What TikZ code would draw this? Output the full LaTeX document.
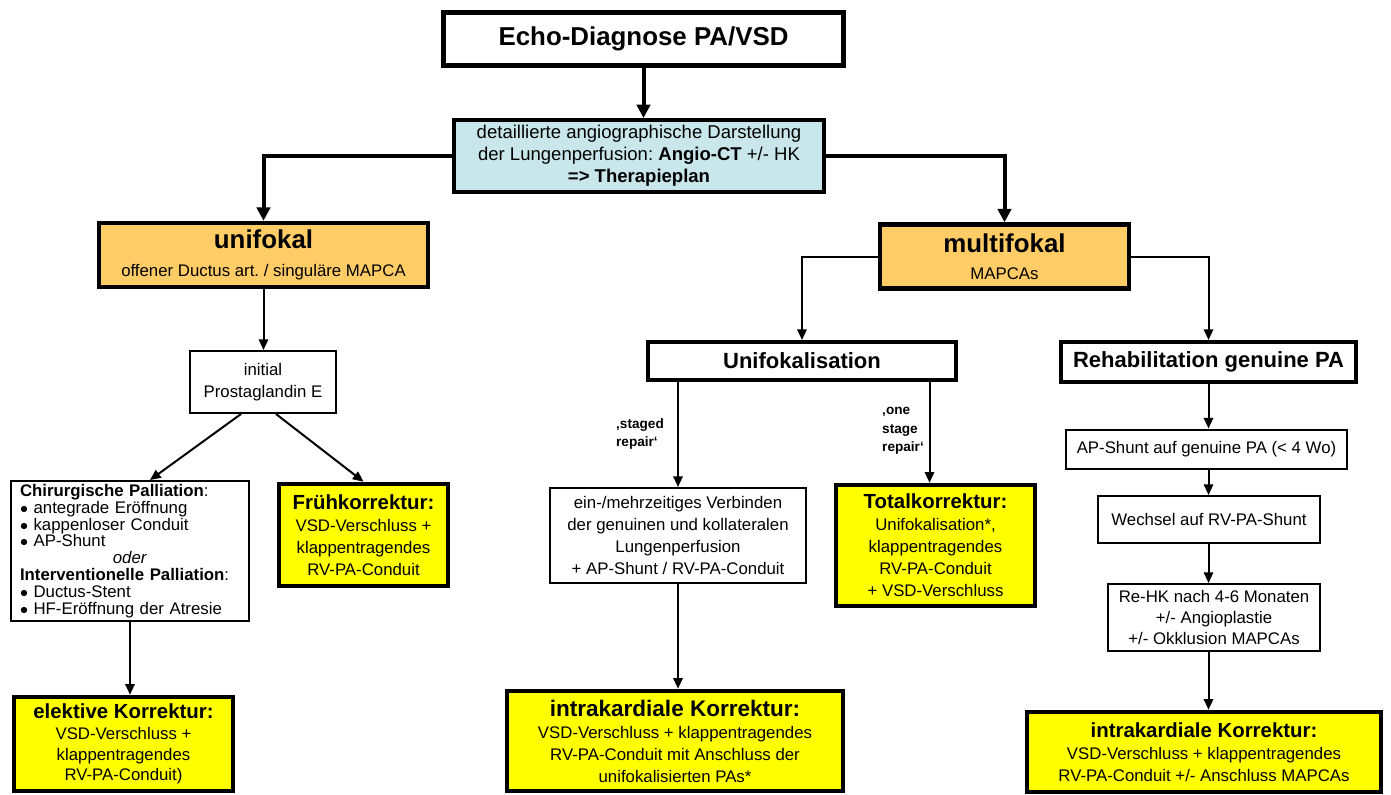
\documentclass[tikz,border=0pt]{standalone}
\usepackage{fontspec}
\setmainfont{Liberation Sans}
\usetikzlibrary{arrows.meta,calc}
\newcommand\fsz[2]{\fontsize{#1}{#2}\selectfont}
\newcommand\blt{$\bullet$\ }
\frenchspacing
\definecolor{angioblue}{RGB}{201,231,234}
\definecolor{fokalorange}{RGB}{255,204,102}
\definecolor{korryellow}{RGB}{255,255,0}
\tikzset{
	box/.style={draw, line width=1.5pt, inner sep=0pt, align=center, font=\fsz{12.6}{16.5}},
	bigbox/.style={box, line width=3.4pt},
	korr/.style={bigbox, fill=korryellow},
	dim/.style 2 args={minimum width=#1*0.75pt, minimum height=#2*0.75pt},
	arr/.style={line width=1.5pt, -{Triangle[length=8pt,width=7pt]}},
	bigarr/.style={line width=3pt, -{Triangle[length=10pt,width=10pt]}},
	lbl/.style={align=left, inner sep=0pt, font=\bfseries\fsz{10.2}{13.8}},
}
\begin{document}
\begin{tikzpicture}[x=0.75pt,y=-0.75pt,line join=miter]
	\useasboundingbox (0,0) rectangle (1391,794);
	% oben
	\node[bigbox, dim={400}{53}, line width=3.75pt, font=\bfseries\fsz{19.4}{22}] (echo) at (643.5,39) {Echo-Diagnose PA/VSD};
	\node[bigbox, dim={370}{72}, line width=3pt, fill=angioblue, font=\fsz{13.9}{16.5}] (angio) at (639,156)
		{detaillierte angiographische Darstellung\\der Lungenperfusion: \textbf{Angio-CT} +/- HK\\\textbf{=> Therapieplan}};
	\node[bigbox, dim={329}{64}, fill=fokalorange] (unifokal) at (263.5,255)
		{{\bfseries\fsz{19.4}{22}unifokal}\\[4pt]offener Ductus art. / singuläre MAPCA};
	\node[bigbox, dim={249}{64}, fill=fokalorange] (multifokal) at (1004.5,256.5)
		{{\bfseries\fsz{19.4}{22}multifokal}\\[4pt]MAPCAs};
	% linker Zweig
	\node[box, dim={146}{62}] (prosta) at (263,382) {initial\\Prostaglandin E};
	\node[box, dim={238}{140}, align=left, text width=165pt, font=\fsz{12.6}{12.6}] (palli) at (130,551)
		{\textbf{Chirurgische Palliation}:\\
		\blt antegrade Eröffnung\\
		\blt kappenloser Conduit\\
		\blt AP-Shunt\\
		\makebox[165pt]{\textit{oder}}\\
		\textbf{Interventionelle Palliation}:\\
		\blt Ductus-Stent\\
		\blt HF-Eröffnung der Atresie};
	\node[korr, dim={169}{102}] (frueh) at (363.5,535)
		{\textbf{\fsz{15.3}{16.5}Frühkorrektur:}\\VSD-Verschluss +\\klappentragendes\\RV-PA-Conduit};
	\node[korr, dim={219}{94}, font=\fsz{12.6}{15.5}] (elektiv) at (123.5,744)
		{\textbf{\fsz{15.3}{16.5}elektive Korrektur:}\\VSD-Verschluss +\\klappentragendes\\RV-PA-Conduit)};
	% Unifokalisation
	\node[bigbox, dim={308}{38}, line width=3pt, font=\bfseries\fsz{16.5}{20}] (unifokalisation) at (802,361) {Unifokalisation};
	\node[lbl] (staged) at (640,434) {‚staged\\repair‘};
	\node[lbl] (onestage) at (903,431) {‚one\\stage\\repair‘};
	\node[box, dim={256}{95}] (verbind) at (678,535.5)
		{ein-/mehrzeitiges Verbinden\\der genuinen und kollateralen\\Lungenperfusion\\+ AP-Shunt / RV-PA-Conduit};
	\node[korr, dim={199}{121}] (total) at (935.5,545.5)
		{\textbf{\fsz{15.3}{16.5}Totalkorrektur:}\\Unifokalisation*,\\klappentragendes\\RV-PA-Conduit\\+ VSD-Verschluss};
	\node[korr, dim={336}{100}] (intraL) at (675,741)
		{\textbf{\fsz{16.9}{16.5}intrakardiale Korrektur:}\\VSD-Verschluss + klappentragendes\\RV-PA-Conduit mit Anschluss der\\unifokalisierten PAs*};
	% Rehabilitation
	\node[bigbox, dim={295}{40}, line width=3pt, font=\bfseries\fsz{16.5}{20}] (rehab) at (1208.5,362) {Rehabilitation genuine PA};
	\node[box, dim={281}{39}] (apshunt) at (1206.5,449) {AP-Shunt auf genuine PA (< 4 Wo)};
	\node[box, dim={222}{47}] (wechsel) at (1209,519.5) {Wechsel auf RV-PA-Shunt};
	\node[box, dim={212}{67}, font=\fsz{12.6}{15.4}] (rehk) at (1214,617.5)
		{Re-HK nach 4-6 Monaten\\+/- Angioplastie\\+/- Okklusion MAPCAs};
	\node[korr, dim={354}{80}] (intraR) at (1204,752)
		{\textbf{\fsz{15.3}{16.5}intrakardiale Korrektur:}\\VSD-Verschluss + klappentragendes\\RV-PA-Conduit +/- Anschluss MAPCAs};
	% Pfeile
	\draw[bigarr] (echo.south) -- (echo.south |- angio.north);
	\draw[bigarr] (angio.west) -| (unifokal.north);
	\draw[bigarr] (angio.east) -| (multifokal.north);
	\draw[arr] (multifokal.west) -| (unifokalisation.north);
	\draw[arr] (multifokal.east) -| (rehab.north);
	\draw[arr] (unifokal.south) -- (unifokal.south |- prosta.north);
	\draw[arr] ($(prosta.south)+(-22,0)$) -- ($(palli.north)+(20,0)$);
	\draw[arr] ($(prosta.south)+(13,0)$) -- (frueh.north);
	\draw[arr] (palli.south) -- (palli.south |- elektiv.north);
	\draw[arr] (unifokalisation.south -| verbind.north) -- (verbind.north);
	\draw[arr] ($(unifokalisation.south -| total.north)+(-6,0)$) -- ($(total.north)+(-6,0)$);
	\draw[arr] (verbind.south) -- (verbind.south |- intraL.north);
	\draw[arr] (rehab.south) -- (rehab.south |- apshunt.north);
	\draw[arr] (rehab.south |- apshunt.south) -- (rehab.south |- wechsel.north);
	\draw[arr] (rehab.south |- wechsel.south) -- (rehab.south |- rehk.north);
	\draw[arr] (rehab.south |- rehk.south) -- (rehab.south |- intraR.north);
\end{tikzpicture}
\end{document}
